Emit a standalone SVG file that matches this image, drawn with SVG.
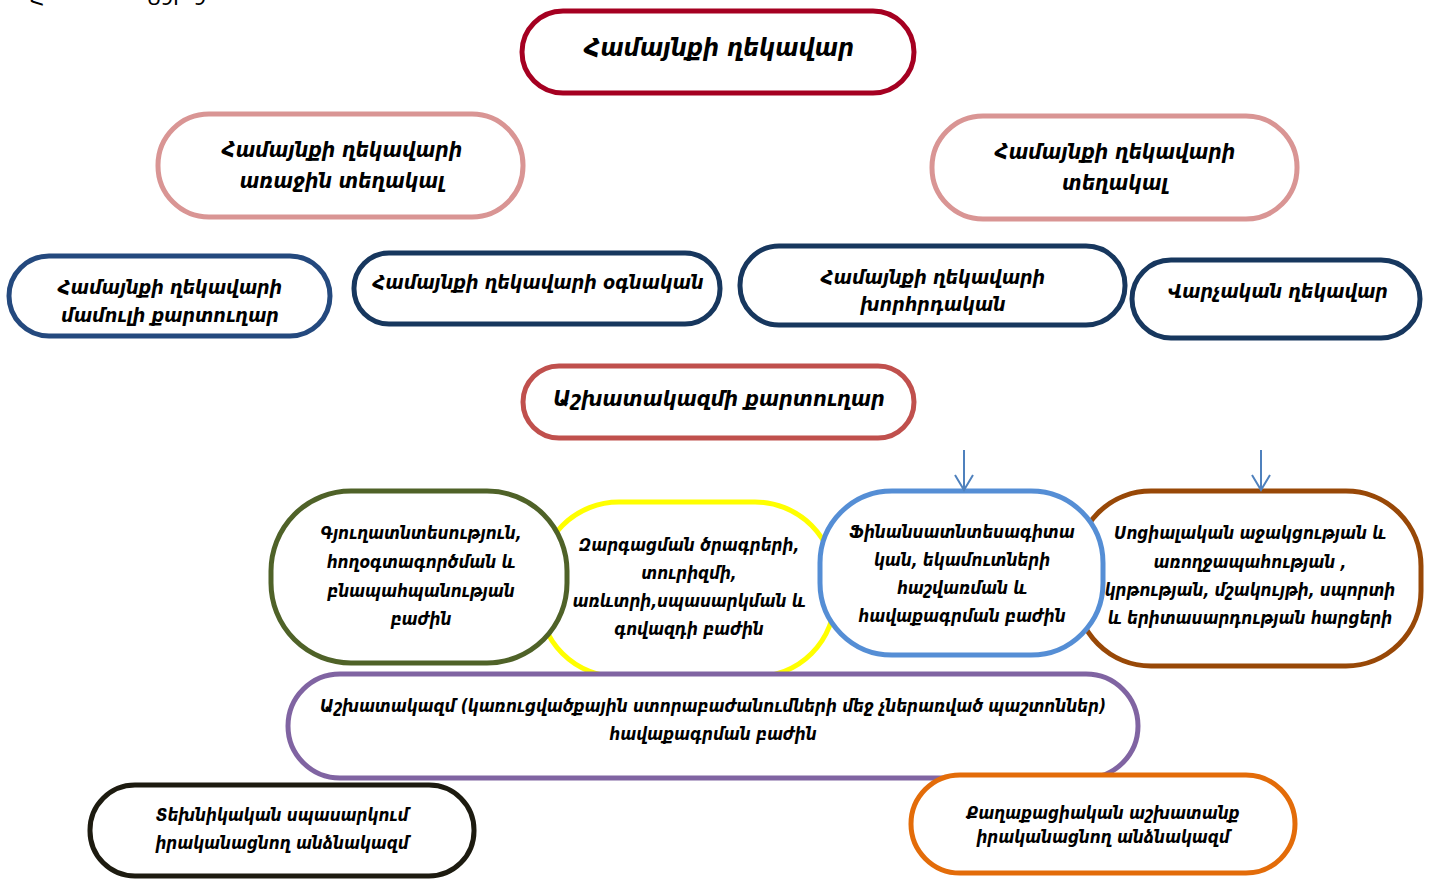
<svg xmlns="http://www.w3.org/2000/svg" width="1432" height="879" viewBox="0 0 1432 879">
<style>
  .n { fill: #ffffff; stroke-width: 5; }
  .t { font-family: "DejaVu Sans Condensed", "DejaVu Sans", sans-serif; font-weight: bold; font-style: italic; fill: #000000; text-anchor: middle; }
  .s24 { font-size: 25px; }
  .s21 { font-size: 21.5px; }
  .s20 { font-size: 21px; }
  .s19 { font-size: 19.6px; }
  .s17 { font-size: 17px; }
  .con { stroke: #4F81BD; stroke-width: 2; fill: none; }
</style>
<defs>
  <marker id="open" viewBox="0 0 20 20" refX="18" refY="10" markerWidth="20" markerHeight="20" markerUnits="userSpaceOnUse" orient="auto">
    <path d="M3,1 L18,10 L3,19" fill="none" stroke="#4F81BD" stroke-width="2"/>
  </marker>
</defs>
<rect width="1432" height="879" fill="#ffffff"/>
<text x="30" y="5" font-family="DejaVu Sans, sans-serif" font-size="20" fill="#000">Հ</text>
<text x="146" y="5" font-family="DejaVu Sans, sans-serif" font-size="20" fill="#000">Ն9Ր 9</text>

<g id="n1"><rect class="n" x="522" y="11" width="392" height="82" rx="41" stroke="#A50021"/>
<text class="t s24" x="719" y="56">Համայնքի ղեկավար</text></g>

<g id="n2"><rect class="n" x="158" y="114" width="365" height="103" rx="51" stroke="#D99594"/>
<text class="t s20" x="342" y="157">Համայնքի ղեկավարի</text>
<text class="t s20" x="342" y="188">առաջին տեղակալ</text></g>

<g id="n3"><rect class="n" x="932" y="116" width="365" height="103" rx="51" stroke="#D99594"/>
<text class="t s20" x="1115" y="159">Համայնքի ղեկավարի</text>
<text class="t s20" x="1115" y="190">տեղակալ</text></g>

<g id="n4"><rect class="n" x="9" y="256" width="321" height="80" rx="40" stroke="#24497E"/>
<text class="t s19" x="170" y="294">Համայնքի ղեկավարի</text>
<text class="t s19" x="170" y="322">մամուլի քարտուղար</text></g>

<g id="n5"><rect class="n" x="354" y="253" width="366" height="71" rx="35" stroke="#17375E"/>
<text class="t s19" x="538" y="289">Համայնքի ղեկավարի օգնական</text></g>

<g id="n6"><rect class="n" x="740" y="246" width="385" height="79" rx="39" stroke="#17375E"/>
<text class="t s19" x="933" y="284">Համայնքի ղեկավարի</text>
<text class="t s19" x="933" y="311">խորհրդական</text></g>

<g id="n7"><rect class="n" x="1132" y="260" width="288" height="78" rx="39" stroke="#17375E"/>
<text class="t s19" x="1278" y="298">Վարչական ղեկավար</text></g>

<g id="n8"><rect class="n" x="523" y="366" width="391" height="72" rx="36" stroke="#C0504D"/>
<text class="t s21" x="719" y="406">Աշխատակազմի քարտուղար</text></g>

<g id="n10"><rect class="n" x="539" y="502" width="296" height="175" rx="80" stroke="#FFFF00" stroke-width="6"/>
<text class="t s17" x="689" y="551">Զարգացման ծրագրերի,</text>
<text class="t s17" x="689" y="579">տուրիզմի,</text>
<text class="t s17" x="689" y="607">առևտրի,սպասարկման և</text>
<text class="t s17" x="689" y="635">գովազդի բաժին</text></g>

<g id="n9"><rect class="n" x="271" y="491" width="296" height="172" rx="80" stroke="#4F6228" stroke-width="6" fill="none"/>
<text class="t s17" x="421" y="539">Գյուղատնտեսություն,</text>
<text class="t s17" x="421" y="568">հողօգտագործման և</text>
<text class="t s17" x="421" y="597">բնապահպանության</text>
<text class="t s17" x="421" y="625">բաժին</text></g>

<g id="n12"><rect class="n" x="1076" y="491" width="345" height="175" rx="75" stroke="#984807" stroke-width="6"/>
<text class="t s17" x="1250" y="539">Սոցիալական աջակցության և</text>
<text class="t s17" x="1250" y="568">առողջապահության ,</text>
<text class="t s17" x="1250" y="596">կրթության, մշակույթի, սպորտի</text>
<text class="t s17" x="1250" y="624">և երիտասարդության հարցերի</text></g>

<g id="n11"><rect class="n" x="820" y="491" width="283" height="164" rx="72" stroke="#558ED5" stroke-width="6" fill="none"/>
<text class="t s17" x="962" y="538">Ֆինանսատնտեսագիտա</text>
<text class="t s17" x="962" y="566">կան, եկամուտների</text>
<text class="t s17" x="962" y="594">հաշվառման և</text>
<text class="t s17" x="962" y="622">հավաքագրման բաժին</text></g>

<g id="n13"><rect class="n" x="288" y="674" width="850" height="104" rx="52" stroke="#8064A2"/>
<text class="t s17" x="713" y="712">Աշխատակազմ (կառուցվածքային ստորաբաժանումների մեջ չներառված պաշտոններ)</text>
<text class="t s17" x="713" y="740">հավաքագրման բաժին</text></g>

<g id="n14"><rect class="n" x="90" y="785" width="384" height="91" rx="45" stroke="#1D1B10"/>
<text class="t s17" x="282" y="821">Տեխնիկական սպասարկում</text>
<text class="t s17" x="282" y="849">իրականացնող անձնակազմ</text></g>

<g id="n15"><rect class="n" x="911" y="775" width="384" height="98" rx="49" stroke="#E36C09"/>
<text class="t s17" x="1103" y="819">Քաղաքացիական աշխատանք</text>
<text class="t s17" x="1103" y="843">իրականացնող անձնակազմ</text></g>

<g id="connectors">
  <line class="con" x1="964" y1="450" x2="964" y2="490" marker-end="url(#open)"/>
  <line class="con" x1="1261" y1="450" x2="1261" y2="490" marker-end="url(#open)"/>
</g>
</svg>
